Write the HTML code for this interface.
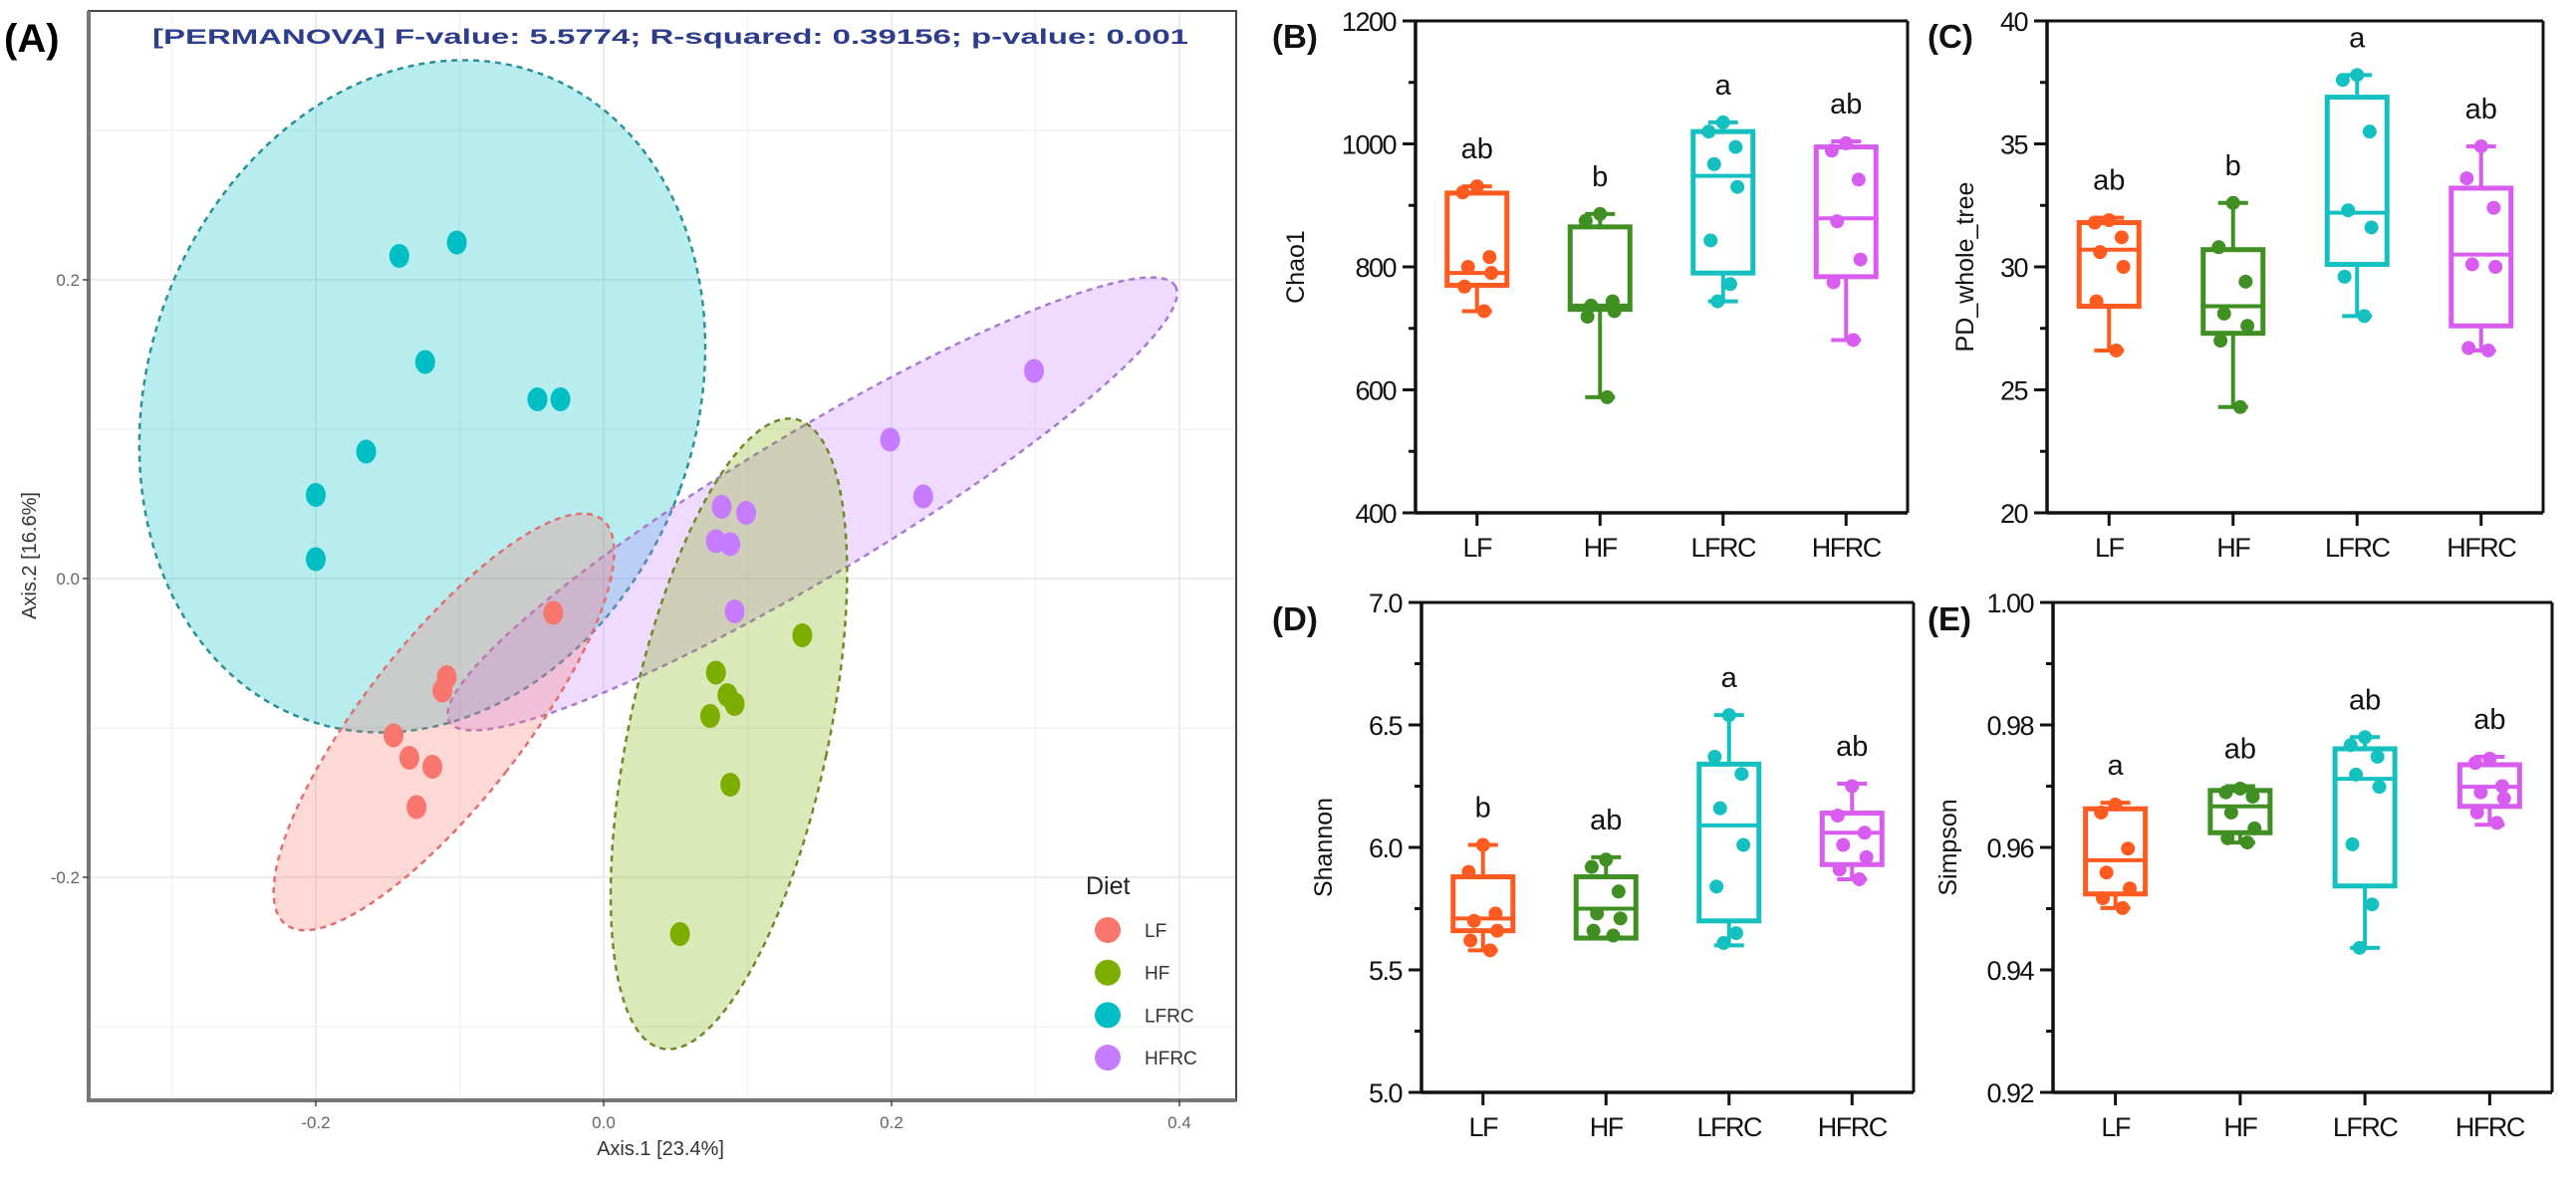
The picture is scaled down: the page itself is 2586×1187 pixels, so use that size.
<!DOCTYPE html>
<html><head><meta charset="utf-8">
<style>
html,body{margin:0;padding:0;background:#fff;}
svg{display:block;}
text{font-family:"Liberation Sans",Arial,sans-serif;}
</style></head>
<body>
<svg id="fig" xmlns="http://www.w3.org/2000/svg" width="2586" height="1187" viewBox="0 0 2586 1187">
  <rect x="0" y="0" width="2586" height="1187" fill="#fff"/>
  <g id="pA"></g>
  <g id="pB"></g>
  <g id="pC"></g>
  <g id="pD"></g>
  <g id="pE"></g>
</svg>
<script>
// ---------- Panel A data ----------
const groups = ["LF","HF","LFRC","HFRC"];
const lfX = [-0.035,-0.109,-0.112,-0.146,-0.135,-0.119,-0.130];
const lfY = [-0.023,-0.066,-0.075,-0.105,-0.120,-0.126,-0.153];
const hfX = [0.138,0.078,0.086,0.091,0.074,0.088,0.053];
const hfY = [-0.038,-0.063,-0.078,-0.084,-0.092,-0.138,-0.238];
const lfrcX = [-0.142,-0.102,-0.124,-0.046,-0.030,-0.165,-0.200,-0.200];
const lfrcY = [0.216,0.225,0.145,0.120,0.120,0.085,0.056,0.013];
const hfrcX = [0.299,0.199,0.222,0.082,0.099,0.078,0.088,0.091];
const hfrcY = [0.139,0.093,0.055,0.048,0.044,0.025,0.023,-0.022];
const ellCenterX = [-0.111,0.087,-0.126,0.145];
const ellCenterY = [-0.096,-0.104,0.122,0.050];
const xTicks = [-0.2,0.0,0.2,0.4];
const yTicks = [-0.2,0.0,0.2];
const xTickLabels = ["-0.2","0.0","0.2","0.4"];
const yTickLabels = ["-0.2","0.0","0.2"];

// ---------- Box panel data ----------
const cats = ["LF","HF","LFRC","HFRC"];
// Chao1
const chaoQ1=[770,731,790,784], chaoMed=[790,737,948,879], chaoQ3=[920,865,1020,995], chaoLo=[728,588,744,681], chaoHi=[931,886,1035,1004];
const chaoPts=[[931,921,816,800,790,768,728],[886,875,744,737,728,719,588],[1035,1020,995,967,930,843,772,744],[1001,989,942,874,812,775,681]];
const chaoLetters=["ab","b","a","ab"];
// PD whole tree
const pdQ1=[28.4,27.3,30.1,27.6], pdMed=[30.7,28.4,32.2,30.5], pdQ3=[31.8,30.7,36.9,33.2], pdLo=[26.6,24.3,28.0,26.6], pdHi=[32.0,32.6,37.8,34.9];
const pdPts=[[31.9,31.8,31.2,30.6,30.0,28.6,26.6],[32.6,30.8,29.4,28.1,27.6,27.0,24.3],[37.8,37.6,35.5,32.3,31.6,29.6,28.0],[34.9,33.6,32.4,30.1,30.0,26.7,26.6]];
const pdLetters=["ab","b","a","ab"];
// Shannon
const shQ1=[5.66,5.63,5.70,5.93], shMed=[5.71,5.75,6.09,6.06], shQ3=[5.88,5.88,6.34,6.14], shLo=[5.58,5.63,5.60,5.87], shHi=[6.01,5.96,6.54,6.26];
const shPts=[[6.01,5.90,5.73,5.70,5.66,5.62,5.58],[5.95,5.92,5.82,5.73,5.71,5.66,5.64],[6.54,6.37,6.30,6.16,6.01,5.84,5.65,5.61],[6.25,6.13,6.06,6.01,5.96,5.91,5.87]];
const shLetters=["b","ab","a","ab"];
// Simpson
const siQ1=[0.9524,0.9624,0.9537,0.9667], siMed=[0.9579,0.9667,0.9712,0.9699], siQ3=[0.9663,0.9693,0.9761,0.9735], siLo=[0.9501,0.9608,0.9436,0.9637], siHi=[0.9673,0.9700,0.9780,0.9748];
const siPts=[[0.967,0.9657,0.9598,0.9559,0.9533,0.9517,0.9501],[0.9696,0.969,0.9683,0.9657,0.9631,0.9615,0.9608],[0.978,0.9767,0.9748,0.9719,0.9699,0.9605,0.9507,0.9436],[0.9745,0.9738,0.970,0.969,0.968,0.9657,0.964]];
const siLetters=["a","ab","ab","ab"];

const NS="http://www.w3.org/2000/svg";
function mk(parent,tag,attrs,txt){const e=document.createElementNS(NS,tag);for(const k in attrs)e.setAttribute(k,attrs[k]);if(txt!==undefined)e.textContent=txt;parent.appendChild(e);return e;}

// ================= Panel A =================
(function(){
  const g=document.getElementById('pA');
  const L=89,R=1241,T=11,B=1105;
  const sx=v=>606+v*1445, sy=v=>581-v*1500;
  const fill=["#F8766D","#7CAE00","#00BFC4","#C77CFF"];
  const dash=["#e07070","#6b8a2a","#2a8f96","#a77ad0"];
  const ellR=[[80,258,38],[100,323,12],[275,345,20],[425,72,-31]];
  const xs=[lfX,hfX,lfrcX,hfrcX], ys=[lfY,hfY,lfrcY,hfrcY];
  // grid
  for(let v=-0.3;v<=0.41;v+=0.1){const x=sx(v);const gl=mk(g,'line',{x1:x,x2:x,y1:T,y2:B,stroke:Math.abs(Math.round(v*10))%2===0?'#e6e6e6':'#f2f2f2','stroke-width':1.5});
    }
  for(let v=-0.3;v<=0.31;v+=0.1){const y=sy(v);const gl=mk(g,'line',{x1:L,x2:R,y1:y,y2:y,stroke:Math.abs(Math.round(v*10))%2===0?'#e6e6e6':'#f2f2f2','stroke-width':1.5});
    }
  // ellipses
  const order=[2,3,1,0];
  order.forEach(i=>{
    const cx=sx(ellCenterX[i]), cy=sy(ellCenterY[i]);
    const e=mk(g,'ellipse',{cx:cx,cy:cy,rx:ellR[i][0],ry:ellR[i][1],transform:`rotate(${ellR[i][2]} ${cx} ${cy})`,fill:fill[i],'fill-opacity':0.28,stroke:dash[i],'stroke-width':2.5,'stroke-dasharray':'6 5'});
    
    
  });
  // points
  [2,3,1,0].forEach(i=>{
    xs[i].forEach((xv,j)=>{
      const p=mk(g,'ellipse',{cx:sx(xv),cy:sy(ys[i][j]),rx:10,ry:12,fill:fill[i]});
      
      
    });
  });
  // frame
  mk(g,'rect',{x:L,y:T,width:R-L,height:B-T,fill:'none',stroke:'#444','stroke-width':2});
  mk(g,'line',{x1:L,x2:L,y1:T,y2:B+2,stroke:'#777','stroke-width':4});
  mk(g,'line',{x1:L,x2:R,y1:B,y2:B,stroke:'#777','stroke-width':4});
  // ticks
  xTicks.forEach((v,i)=>{const x=sx(v);mk(g,'line',{x1:x,x2:x,y1:B,y2:B+6,stroke:'#444','stroke-width':1.5});
    const t=mk(g,'text',{x:x,y:1133,'text-anchor':'middle','font-size':17,fill:'#666'},xTickLabels[i]);
    });
  yTicks.forEach((v,i)=>{const y=sy(v);mk(g,'line',{x1:L-6,x2:L,y1:y,y2:y,stroke:'#444','stroke-width':1.5});
    const t=mk(g,'text',{x:80,y:y+6,'text-anchor':'end','font-size':17,fill:'#666'},yTickLabels[i]);
    });
  let t=mk(g,'text',{x:663,y:1160,'text-anchor':'middle','font-size':20,fill:'#333'},'Axis.1   [23.4%]');
  
  t=mk(g,'text',{x:0,y:0,'text-anchor':'middle','font-size':20,fill:'#333',transform:'translate(36,558) rotate(-90)'},'Axis.2   [16.6%]');
  
  t=mk(g,'text',{x:153,y:44,'font-size':21,'font-weight':'bold',fill:'#2E3C8C','font-family':'"DejaVu Sans",sans-serif',textLength:1040,lengthAdjust:'spacingAndGlyphs'},'[PERMANOVA] F-value: 5.5774; R-squared: 0.39156; p-value: 0.001');
  
  t=mk(g,'text',{x:4,y:52,'font-size':40,'font-weight':'bold',fill:'#000'},'(A)');
  
  // legend
  t=mk(g,'text',{x:1090,y:898,'font-size':25,fill:'#222'},'Diet');
  
  groups.forEach((gname,i)=>{
    const y=934+i*42.7;
    const c=mk(g,'circle',{cx:1112,cy:y,r:13,fill:fill[i]});
    
    const lt=mk(g,'text',{x:1149,y:y+7,'font-size':19,fill:'#333'},gname);
    
  });
})();

// ================= Box panels =================
const boxColors=["#FF5A1F","#3F8F22","#14C0C0","#D95CF0"];
function boxPanel(id,cfg){
  const g=document.getElementById(id);
  const {L,R,T,B,ymin,ymax,ticks,tickLabels,minors,q1,med,q3,lo,hi,pts,letters,title,titleX,label,labelX,labelY}=cfg;
  const sy=v=>B-(v-ymin)/(ymax-ymin)*(B-T);
  const cx=i=>L+(i+0.5)*(R-L)/4;
  // frame
  mk(g,'line',{x1:L,x2:R,y1:T,y2:T,stroke:'#111','stroke-width':3});
  mk(g,'line',{x1:R,x2:R,y1:T,y2:B,stroke:'#111','stroke-width':3});
  mk(g,'line',{x1:L,x2:L,y1:T-1.5,y2:B+1.5,stroke:'#111','stroke-width':3.5});
  mk(g,'line',{x1:L,x2:R,y1:B,y2:B,stroke:'#111','stroke-width':3.5});
  ticks.forEach((v,i)=>{const y=sy(v);mk(g,'line',{x1:L-13,x2:L,y1:y,y2:y,stroke:'#111','stroke-width':3});
    const t=mk(g,'text',{x:L-20,y:y+10,'text-anchor':'end','font-size':27,fill:'#111','letter-spacing':-1.5},tickLabels[i]);
    });
  minors.forEach(v=>{const y=sy(v);mk(g,'line',{x1:L-7,x2:L,y1:y,y2:y,stroke:'#111','stroke-width':3});});
  cats.forEach((c,i)=>{const x=cx(i);mk(g,'line',{x1:x,x2:x,y1:B,y2:B+13,stroke:'#111','stroke-width':3});
    const t=mk(g,'text',{x:x,y:B+44,'text-anchor':'middle','font-size':27,fill:'#111','letter-spacing':-1.5},c);
    });
  let t=mk(g,'text',{x:0,y:0,'text-anchor':'middle','font-size':25,fill:'#111',transform:`translate(${titleX},${(T+B)/2}) rotate(-90)`},title);
  
  t=mk(g,'text',{x:labelX,y:labelY,'font-size':33,'font-weight':'bold',fill:'#111'},label);
  
  cats.forEach((c,i)=>{
    const x=cx(i),col=boxColors[i],w=60;
    const bg=mk(g,'g',{});
    
    
    mk(bg,'line',{x1:x,x2:x,y1:sy(hi[i]),y2:sy(q3[i]),stroke:col,'stroke-width':4});
    mk(bg,'line',{x1:x,x2:x,y1:sy(q1[i]),y2:sy(lo[i]),stroke:col,'stroke-width':4});
    mk(bg,'line',{x1:x-15,x2:x+15,y1:sy(hi[i]),y2:sy(hi[i]),stroke:col,'stroke-width':4});
    mk(bg,'line',{x1:x-15,x2:x+15,y1:sy(lo[i]),y2:sy(lo[i]),stroke:col,'stroke-width':4});
    mk(bg,'rect',{x:x-w/2,y:sy(q3[i]),width:w,height:sy(q1[i])-sy(q3[i]),fill:'none',stroke:col,'stroke-width':5});
    mk(bg,'line',{x1:x-w/2,x2:x+w/2,y1:sy(med[i]),y2:sy(med[i]),stroke:col,'stroke-width':4});
    pts[i].forEach((v,j)=>{
      const off=[0,-16,14,-10,16,-14,8,-6][j%8];
      const p=mk(g,'circle',{cx:x+off*0.9,cy:sy(v),r:7,fill:col});
      
      
    });
    const lt=mk(g,'text',{x:x,y:Math.min(sy(hi[i]),sy(q3[i]))-28,'text-anchor':'middle','font-size':29,fill:'#111'},letters[i]);
    
  });
}
boxPanel('pB',{L:1421,R:1915,T:21,B:515,ymin:400,ymax:1200,ticks:[400,600,800,1000,1200],tickLabels:["400","600","800","1000","1200"],minors:[500,700,900,1100],
  q1:chaoQ1,med:chaoMed,q3:chaoQ3,lo:chaoLo,hi:chaoHi,pts:chaoPts,letters:chaoLetters,title:'Chao1',titleX:1309,label:'(B)',labelX:1277,labelY:48});
boxPanel('pC',{L:2055,R:2553,T:21,B:515,ymin:20,ymax:40,ticks:[20,25,30,35,40],tickLabels:["20","25","30","35","40"],minors:[22.5,27.5,32.5,37.5],
  q1:pdQ1,med:pdMed,q3:pdQ3,lo:pdLo,hi:pdHi,pts:pdPts,letters:pdLetters,title:'PD_whole_tree',titleX:1981,label:'(C)',labelX:1935,labelY:48});
boxPanel('pD',{L:1427,R:1921,T:605,B:1097,ymin:5,ymax:7,ticks:[5,5.5,6,6.5,7],tickLabels:["5.0","5.5","6.0","6.5","7.0"],minors:[5.25,5.75,6.25,6.75],
  q1:shQ1,med:shMed,q3:shQ3,lo:shLo,hi:shHi,pts:shPts,letters:shLetters,title:'Shannon',titleX:1337,label:'(D)',labelX:1277,labelY:633});
boxPanel('pE',{L:2061,R:2562,T:605,B:1097,ymin:0.92,ymax:1.0,ticks:[0.92,0.94,0.96,0.98,1.0],tickLabels:["0.92","0.94","0.96","0.98","1.00"],minors:[0.93,0.95,0.97,0.99],
  q1:siQ1,med:siMed,q3:siQ3,lo:siLo,hi:siHi,pts:siPts,letters:siLetters,title:'Simpson',titleX:1964,label:'(E)',labelX:1935,labelY:633});
</script>
</body></html>
